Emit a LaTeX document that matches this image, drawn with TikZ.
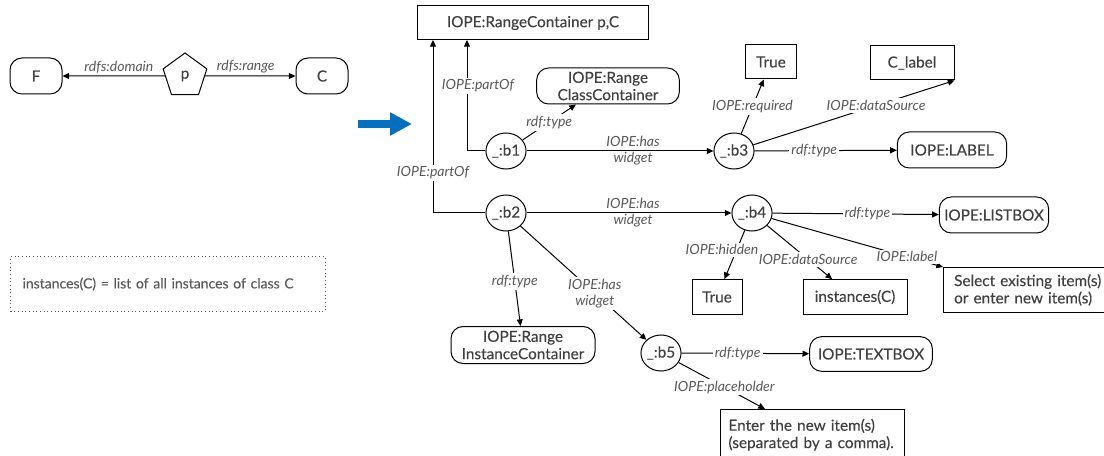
\documentclass[tikz,border=0pt]{standalone}
\usepackage{fontspec}
\setmainfont{Lato}
\newfontfamily\iopeFont{Lato}[FakeBold=0.2]
\usetikzlibrary{arrows.meta,positioning,shapes.geometric}
\definecolor{iopeInk}{HTML}{404040}
\definecolor{iopeSoft}{HTML}{595959}
\definecolor{iopeBlue}{HTML}{0070C0}
\tikzset{
  iope/.style={draw,align=center,text=iopeInk,font=\iopeFont\fontsize{11.5}{13}\selectfont,inner sep=2pt,line width=0.75pt},
  iopeBox/.style={iope},
  iopeRnd/.style={iope,rounded corners=9pt},
  iopeBlank/.style={iope,ellipse,minimum width=30pt,minimum height=27pt,inner sep=0pt},
  iopeProp/.style={iope,regular polygon,regular polygon sides=5,minimum size=34.5pt,inner sep=0pt},
  iopeLbl/.style={font=\fontsize{10.5}{12}\selectfont\itshape,text=iopeSoft,inner sep=1.5pt,align=center},
  iopeLblW/.style={iopeLbl,fill=white},
  iopeArr/.style={-{Triangle[length=5pt,width=4.5pt]},line width=0.75pt},
}

\begin{document}
\begin{tikzpicture}[x=0.75pt,y=-0.75pt]
  \useasboundingbox (0,0) rectangle (1104,456);
  % property p with its domain and range
  \node[iopeRnd,minimum width=39pt,minimum height=27pt] (F) at (36,76) {F};
  \node[iopeProp] (p) at (185,76) {p};
  \node[iopeRnd,minimum width=39pt,minimum height=27pt] (C) at (322,76) {C};
  \draw[iopeArr] (p) -- (F) node[iopeLbl,pos=0.45,above] (ldom) {rdfs:domain};
  \draw[iopeArr] (p) -- (C) node[iopeLbl,pos=0.45,above] (lran) {rdfs:range};
  \node[draw=iopeSoft,dotted,line width=0.75pt,text=iopeSoft,font=\iopeFont\fontsize{10.5}{13}\selectfont,
        anchor=west,minimum width=236pt,minimum height=40.5pt,inner xsep=9pt,
        text width=218pt,align=left] (note) at (10,284)
    {instances(C) = list of all instances of class C};
  % the big arrow
  \coordinate (mvS) at (358,124);
  \coordinate (mvE) at (412,124);
  \draw[iopeBlue,line width=6pt,-{Triangle[length=16.5pt,width=16.5pt]}] (mvS) -- (mvE);

  % widget graph
  \node[iopeBox,minimum width=173pt,minimum height=25.5pt] (rc) at (533,23) {IOPE:RangeContainer p,C};
  \node[iopeRnd,minimum width=107pt,minimum height=27pt] (cc) at (608,86) {IOPE:Range\\ClassContainer};
  \node[iopeBlank] (b1) at (506,151) {\_:b1};
  \node[iopeBlank] (b2) at (506,213) {\_:b2};
  \node[iopeBlank] (b3) at (734,151) {\_:b3};
  \node[iopeBlank] (b4) at (752,213) {\_:b4};
  \node[iopeBlank] (b5) at (661,353) {\_:b5};
  \node[iopeBox,minimum width=38pt,minimum height=25.5pt] (t1) at (771,62) {True};
  \node[iopeBox,minimum width=63pt,minimum height=25.5pt] (cl) at (912,63) {C\_label};
  \node[iopeRnd,minimum width=82pt,minimum height=27pt] (lab) at (952,150) {IOPE:LABEL};
  \node[iopeRnd,minimum width=82pt,minimum height=27pt] (lst) at (994,215) {IOPE:LISTBOX};
  \node[iopeBox,minimum width=37.5pt,minimum height=26pt] (t2) at (717,297) {True};
  \node[iopeBox,minimum width=78pt,minimum height=26pt] (ins) at (855,297) {instances(C)};
  \node[iopeBox,anchor=north west,inner xsep=8pt,inner ysep=5pt,text width=120pt,align=left] (sel) at (943,267)
    {Select existing item(s)\\or enter new item(s)};
  \node[iopeRnd,minimum width=108pt,minimum height=27.75pt] (ic) at (523,345) {IOPE:Range\\InstanceContainer};
  \node[iopeRnd,minimum width=92pt,minimum height=26pt] (tb) at (871,354) {IOPE:TEXTBOX};
  \node[iopeBox,anchor=north west,inner xsep=6pt,inner ysep=7pt,text width=126pt,align=left] (ent) at (720,409)
    {Enter the new item(s)\\(separated by a comma).};

  \coordinate (pa1) at (467,40);
  \coordinate (pa2) at (433,40);
  \draw[iopeArr] (b1.west) -| (pa1);
  \draw[iopeArr] (b2.west) -| (pa2);
  \node[iopeLblW] (lpo1) at (478,86) {IOPE:partOf};
  \node[iopeLblW] (lpo2) at (433,173) {IOPE:partOf};
  \draw[iopeArr] (b1) -- (cc.210) node[iopeLblW,pos=0.5] (lty1) {rdf:type};
  \draw[iopeArr] (b1) -- (b3) node[iopeLbl,pos=0.57] (lhw1) {IOPE:has\\widget};
  \draw[iopeArr] (b3) -- (t1) node[iopeLblW,pos=0.5] (lreq) {IOPE:required};
  \draw[iopeArr] (b3) -- (cl.south east) node[iopeLblW,pos=0.61] (lds1) {IOPE:dataSource};
  \draw[iopeArr] (b3) -- (lab) node[iopeLblW,pos=0.42] (lty3) {rdf:type};
  \draw[iopeArr] (b2) -- (b4) node[iopeLbl,pos=0.52] (lhw2) {IOPE:has\\widget};
  \draw[iopeArr] (b4) -- (lst) node[iopeLblW,pos=0.57] (lty4) {rdf:type};
  \draw[iopeArr] (b4) -- (t2) node[iopeLblW,pos=0.4,xshift=-11pt] (lhid) {IOPE:hidden};
  \draw[iopeArr] (b4) -- (ins.142) node[iopeLblW,pos=0.63] (lds2) {IOPE:dataSource};
  \draw[iopeArr] (b4) -- (sel.north west) node[iopeLblW,pos=0.79] (llab) {IOPE:label};
  \draw[iopeArr] (b2) -- (ic) node[iopeLblW,pos=0.53] (lty2) {rdf:type};
  \draw[iopeArr] (b2) -- (b5) node[iopeLblW,pos=0.59] (lhw3) {IOPE:has\\widget};
  \draw[iopeArr] (b5) -- (tb) node[iopeLblW,pos=0.44] (lty5) {rdf:type};
  \draw[iopeArr] (b5) -- ([xshift=33.75pt]ent.north west) node[iopeLblW,pos=0.53] (lph) {IOPE:placeholder};
\end{tikzpicture}
\end{document}
